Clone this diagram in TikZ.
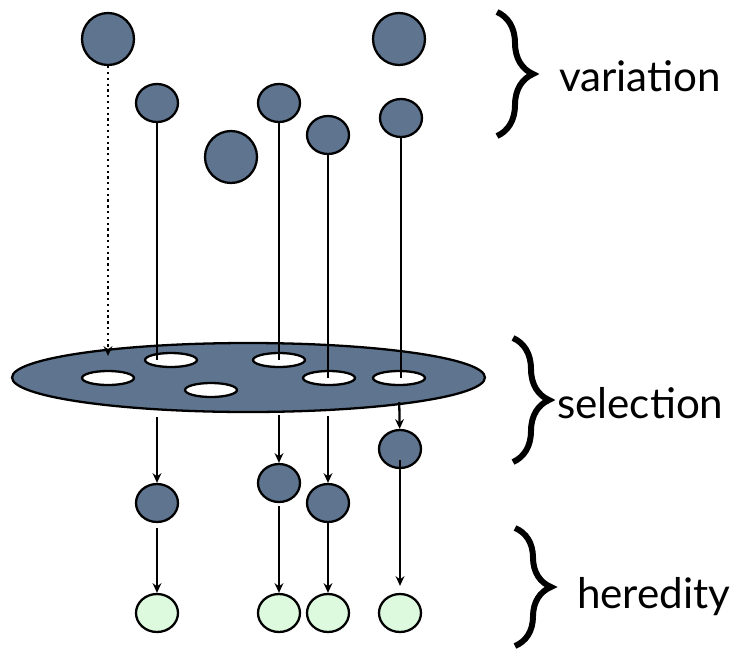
\documentclass[tikz,border=0pt]{standalone}
\usepackage{fontspec}
\setmainfont{Lato}
\usetikzlibrary{shapes.geometric,decorations.pathreplacing,arrows.meta}
\definecolor{slate}{RGB}{94,116,143}
\definecolor{mint}{RGB}{221,250,222}

\begin{document}
\begin{tikzpicture}[x=0.02cm,y=-0.02cm,-,>={Stealth[length=5.5pt,width=5pt]},line width=1.3pt,
    big node/.style={circle,draw,fill=slate,line width=1.3pt,minimum size=1.04cm,inner sep=0pt},
    small node/.style={ellipse,draw,fill=slate,line width=1.3pt,minimum width=0.84cm,minimum height=0.76cm,inner sep=0pt},
    child node/.style={small node,fill=mint},
    hole node/.style={ellipse,draw,fill=white,line width=1.3pt,minimum width=1.04cm,minimum height=0.28cm,inner sep=0pt},
    brace line/.style={decorate,decoration={brace,amplitude=0.72cm},line width=3.4pt},
    label text/.style={font=\fontsize{24}{28}\selectfont,anchor=base west,inner sep=0pt}]
                \useasboundingbox (0,0) rectangle (738,650);

                % variation
                \node[big node] (v1) at (108,39) {};
                \node[big node] (v2) at (399,39) {};
                \node[big node] (v3) at (231,157) {};
                \node[small node] (v4) at (157,103) {};
                \node[small node] (v5) at (279,103) {};
                \node[small node] (v6) at (328,135) {};
                \node[small node] (v7) at (401,118) {};

                % selection
                \node[ellipse,draw,fill=slate,line width=1.3pt,minimum width=9.46cm,minimum height=1.38cm,inner sep=0pt] (sel) at (248.5,377.5) {};
                \node[hole node] (h1) at (171,360) {};
                \node[hole node] (h2) at (108,378) {};
                \node[hole node] (h3) at (211,390) {};
                \node[hole node] (h4) at (279,360) {};
                \node[hole node] (h5) at (329,378) {};
                \node[hole node] (h6) at (399,378) {};

                % survivors and offspring
                \node[small node] (s1) at (157,503) {};
                \node[small node] (s2) at (279,483) {};
                \node[small node] (s3) at (328,503) {};
                \node[small node] (s4) at (400,449) {};
                \node[child node] (o1) at (157,613) {};
                \node[child node] (o2) at (279,613) {};
                \node[child node] (o3) at (328,613) {};
                \node[child node] (o4) at (400,613) {};

                \path
                    (v1) edge[->,dotted,shorten >=0.28cm] (v1 |- h2.north)
                    (v4) edge (v4 |- h1)
                    (v5) edge (h4.center)
                    (v6) edge (v6 |- h5)
                    (v7) edge (v7 |- h6)
                    ;
                \path[->]
                    (s1 |- sel.south) edge[shorten <=0.08cm] (s1)
                    (s2 |- sel.south) edge[shorten <=0.04cm] (s2)
                    (s3 |- sel.south) edge[shorten <=0.06cm] (s3)
                    (h6.south) edge[shorten <=0.32cm] (s4)
                    (s1) edge[shorten <=0.1cm] (o1)
                    (s2) edge[shorten <=0.06cm] (o2)
                    (s3) edge (o3)
                    (s4.center) edge[shorten <=0.22cm,shorten >=0.14cm] (o4.north)
                    ;

                % labels
                \draw[brace line] (497,12) -- (497,136);
                \draw[brace line] (513,338) -- (513,462);
                \draw[brace line] (515,528) -- (515,646);
                \node[label text] (var) at (558,91) {variation};
                \node[label text] (selt) at (556,418) {selection};
                \node[label text] (her) at (576,608) {heredity};
            \end{tikzpicture}
\end{document}
